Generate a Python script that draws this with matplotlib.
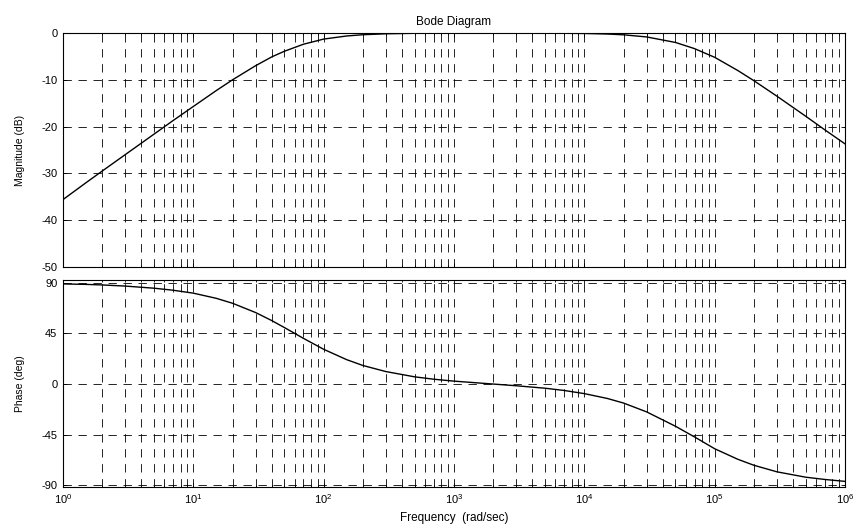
import matplotlib
matplotlib.use("Agg")
import matplotlib.pyplot as plt
from matplotlib.ticker import FixedLocator, NullFormatter

plt.rcParams['font.family'] = ['Liberation Sans', 'DejaVu Sans']
plt.rcParams['mathtext.default'] = 'regular'
plt.rcParams['axes.unicode_minus'] = False

# frequency points (rad/sec)
freq = [1, 1.5, 2, 3, 5, 7, 10, 15, 20, 30, 40, 50, 70, 100, 150, 200, 300, 500, 700,
        1e3, 2e3, 3e3, 5e3, 7e3, 1e4, 1.5e4, 2e4, 3e4, 5e4, 7e4, 1e5, 1.5e5, 2e5,
        3e5, 5e5, 7e5, 1e6]

# magnitude (dB)
mag = [-35.6, -32.0, -29.5, -26.0, -21.6, -18.7, -15.7, -12.3, -10.0, -7.0, -5.1, -3.9,
       -2.4, -1.3, -0.64, -0.37, -0.17, -0.06, -0.03,
       -0.02, -0.01, -0.01, -0.03, -0.06, -0.10, -0.22, -0.39, -0.84, -2.02, -3.34,
       -5.2, -8.0, -10.2, -13.5, -17.8, -20.7, -23.7]

# phase (deg)
phase = [89.0, 88.6, 88.1, 87.1, 85.2, 83.4, 80.8, 76.2, 71.8, 63.6, 56.4, 50.2,
         40.6, 30.9, 21.7, 16.5, 11.1, 6.4, 4.3,
         2.6, 0.0, -1.5, -3.7, -5.7, -8.5, -12.8, -16.9, -24.7, -37.5, -47.0,
         -57.5, -66.8, -72.2, -78.0, -82.8, -84.8, -86.5]

freq_ticks = [1, 10, 100, 1e3, 1e4, 1e5, 1e6]
freq_labels = ['$10^{0}$', '$10^{1}$', '$10^{2}$', '$10^{3}$', '$10^{4}$', '$10^{5}$', '$10^{6}$']
mag_ticks = [0, -10, -20, -30, -40, -50]
phase_ticks = [90, 45, 0, -45, -90]

# minor grid positions 2..9 in each decade
minor_ticks = [m * d for d in freq_ticks[:-1] for m in range(2, 10)]

fig = plt.figure(figsize=(8.56, 5.27), dpi=100)
ax_mag = fig.add_axes([0.0736, 0.4934, 0.9136, 0.4440])
ax_ph = fig.add_axes([0.0736, 0.0759, 0.9136, 0.3928])

grid_kw = dict(color='black', linewidth=0.6, dashes=(10, 8))

for ax in (ax_mag, ax_ph):
    ax.set_xscale('log')
    ax.set_xlim(1, 1e6)
    ax.set_xticks(freq_ticks)
    ax.set_xticklabels(freq_labels)
    ax.xaxis.set_minor_locator(FixedLocator(minor_ticks))
    ax.xaxis.set_minor_formatter(NullFormatter())
    ax.grid(True, which='major', axis='both', **grid_kw)
    ax.grid(True, which='minor', axis='x', **grid_kw)
    ax.tick_params(which='both', direction='in', labelsize=8, length=3, width=0.6,
                   top=True, right=True, pad=4)
    ax.tick_params(which='minor', length=1.5)
    for s in ax.spines.values():
        s.set_linewidth(0.8)

# magnitude plot
ax_mag.plot(freq, mag, color='black', linewidth=1.0)
ax_mag.set_ylim(-50, 0)
ax_mag.set_yticks(mag_ticks)
ax_mag.tick_params(labelbottom=False)
ax_mag.set_ylabel('Magnitude (dB)', fontsize=7.5, labelpad=12)
ax_mag.set_title('Bode Diagram', fontsize=8.5, pad=6)

# phase plot
ax_ph.plot(freq, phase, color='black', linewidth=1.0)
ax_ph.set_ylim(-91.5, 92.5)
ax_ph.set_yticks(phase_ticks)
ax_ph.set_ylabel('Phase (deg)', fontsize=7.5, labelpad=12)
ax_ph.set_xlabel('Frequency  (rad/sec)', fontsize=8.5, labelpad=4)

fig.savefig('out.png', dpi=100)
